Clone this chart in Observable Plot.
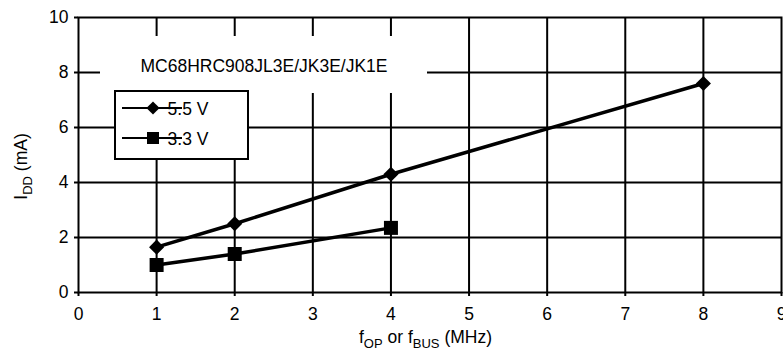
<!DOCTYPE html>
<html><head><meta charset="utf-8">
<script src="https://cdn.jsdelivr.net/npm/d3@7"></script>
<script src="https://cdn.jsdelivr.net/npm/@observablehq/plot@0.6"></script>
<style>
html,body{margin:0;padding:0;background:#fff;}
</style></head><body><div id="chart"></div>
<script>
// ---- data ----
const seriesNames = ["5.5 V", "3.3 V"];
const freq55 = [1, 2, 4, 8];
const idd55 = [1.65, 2.5, 4.3, 7.6];
const freq33 = [1, 2, 4];
const idd33 = [1.0, 1.4, 2.35];
const xTicks = [0, 1, 2, 3, 4, 5, 6, 7, 8, 9];
const yTicks = [0, 2, 4, 6, 8, 10];
const chartTitle = "MC68HRC908JL3E/JK3E/JK1E";

const FONT = "'Liberation Sans', Arial, Helvetica, sans-serif";
const FS = 17.5, SUB = 13;

const d55 = freq55.map((f, i) => ({series: seriesNames[0], f, idd: idd55[i]}));
const d33 = freq33.map((f, i) => ({series: seriesNames[1], f, idd: idd33[i]}));
const all = [...d55, ...d33];

const chart = Plot.plot({
  width: 783,
  height: 360,
  marginLeft: 78,
  marginRight: 2,
  marginTop: 17,
  marginBottom: 68,
  style: {fontFamily: FONT, fontSize: FS + "px", background: "white", color: "black"},
  x: {domain: [0, 9]},
  y: {domain: [0, 10]},
  marks: [
    Plot.gridX(xTicks.slice(1, -1), {stroke: "black", strokeOpacity: 1, strokeWidth: 2}),
    Plot.gridY(yTicks.slice(1, -1), {stroke: "black", strokeOpacity: 1, strokeWidth: 2}),
    Plot.axisX(xTicks, {tickSize: 4, tickPadding: 11, label: null, strokeWidth: 2, fontSize: FS}),
    Plot.axisY(yTicks, {tickSize: 4, tickPadding: 6, label: null, strokeWidth: 2, fontSize: FS}),
    Plot.frame({stroke: "black", strokeWidth: 2}),
    Plot.line(all, {x: "f", y: "idd", z: "series", stroke: "black", strokeWidth: 3.5}),
    Plot.dot(d55, {x: "f", y: "idd", symbol: "diamond2", r: 6.8, fill: "black", stroke: "none"}),
    Plot.dot(d33, {x: "f", y: "idd", symbol: "square", r: 7.9, fill: "black", stroke: "none"})
  ]
});

document.getElementById("chart").appendChild(chart);

// ---- annotations: title box, legend, axis titles with subscripts ----
const svg = d3.select(chart);
const sx = chart.scale("x"), sy = chart.scale("y");
const x0 = sx.apply(0), yTop = sy.apply(10), yBot = sy.apply(0);

// title white box
const tg = svg.append("g").attr("font-family", FONT).attr("font-size", FS);
tg.append("rect").attr("x", x0 + 22).attr("y", yTop + 19).attr("width", 327).attr("height", 57).attr("fill", "white");
tg.append("text").attr("x", x0 + 186).attr("y", yTop + 55).attr("text-anchor", "middle").attr("fill", "black").text(chartTitle);

// legend box
const lg = svg.append("g").attr("font-family", FONT).attr("font-size", FS);
const lx = x0 + 37, ly = yTop + 74;
lg.append("rect").attr("x", lx).attr("y", ly).attr("width", 133).attr("height", 68)
  .attr("fill", "white").attr("stroke", "black").attr("stroke-width", 2);
const rows = [{name: seriesNames[0], sym: d3.symbolDiamond2, size: 110, dy: 17},
              {name: seriesNames[1], sym: d3.symbolSquare, size: 144, dy: 47}];
for (const r of rows) {
  const cy = ly + r.dy;
  lg.append("line").attr("x1", lx + 7).attr("x2", lx + 67).attr("y1", cy).attr("y2", cy)
    .attr("stroke", "black").attr("stroke-width", 2);
  lg.append("path").attr("d", d3.symbol(r.sym, r.size)()).attr("transform", `translate(${lx + 38},${cy})`).attr("fill", "black");
  lg.append("text").attr("x", lx + 73).attr("y", cy + 7).attr("fill", "black").text(r.name);
}

// x axis title
const xt = svg.append("text").attr("font-family", FONT).attr("font-size", FS).attr("fill", "black")
  .attr("x", (x0 + sx.apply(9)) / 2 - 4).attr("y", yBot + 51).attr("text-anchor", "middle");
xt.append("tspan").text("f");
xt.append("tspan").attr("font-size", SUB).attr("dy", 5).text("OP");
xt.append("tspan").attr("dy", -5).text(" or f");
xt.append("tspan").attr("font-size", SUB).attr("dy", 5).text("BUS");
xt.append("tspan").attr("dy", -5).text(" (MHz)");

// y axis title
const yt = svg.append("text").attr("font-family", FONT).attr("font-size", FS).attr("fill", "black")
  .attr("text-anchor", "middle").attr("transform", `translate(27,${(yTop + yBot) / 2 + 12}) rotate(-90)`);
yt.append("tspan").text("I");
yt.append("tspan").attr("font-size", SUB).attr("dy", 5).text("DD");
yt.append("tspan").attr("dy", -5).text(" (mA)");
</script>
</body></html>
